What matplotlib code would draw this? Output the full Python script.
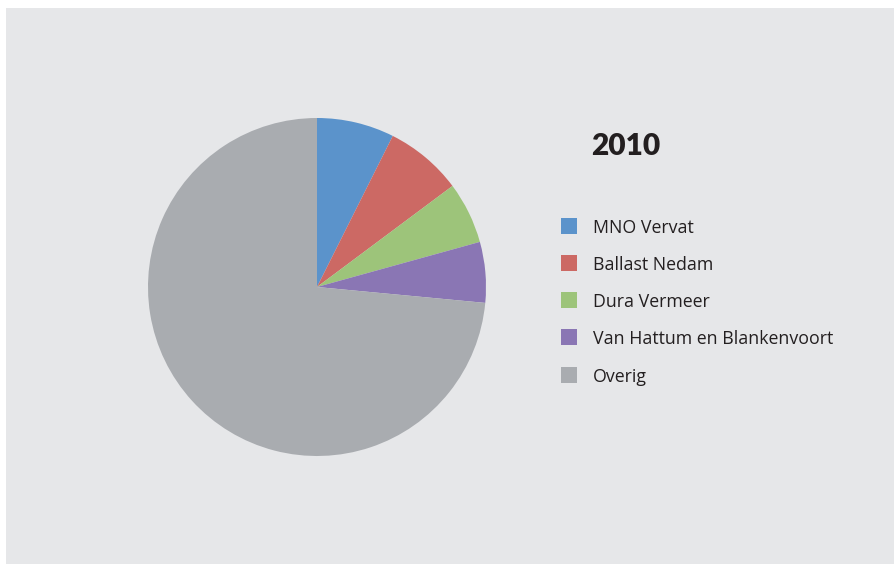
import matplotlib.pyplot as plt
from matplotlib.patches import Rectangle

labels = ['MNO Vervat', 'Ballast Nedam', 'Dura Vermeer',
          'Van Hattum en Blankenvoort', 'Overig']
shares = [7.4, 7.4, 5.9, 5.8, 73.5]
colors = ['#5B93CB', '#CC6964', '#9DC47A', '#8A76B4', '#A9ACB0']
title = '2010'

W, H = 895, 564
fig = plt.figure(figsize=(W / 100, H / 100), dpi=100, facecolor='white')
plt.rcParams['font.family'] = ['Open Sans', 'DejaVu Sans']

# grey panel
fig.patches.append(Rectangle((6 / W, 0), 1 - 6 / W, 1 - 8 / H,
                             transform=fig.transFigure, facecolor='#E6E7E9',
                             edgecolor='none', zorder=-5))

# pie: centre (317, 287), radius 169 px
cx, cy, r = 317, 287, 169
ax = fig.add_axes([(cx - r) / W, 1 - (cy + r) / H, 2 * r / W, 2 * r / H])
ax.set_zorder(2)
ax.pie(shares, colors=colors, startangle=90, counterclock=False,
       wedgeprops=dict(linewidth=0))
ax.set_xlim(-1, 1)
ax.set_ylim(-1, 1)
ax.set_aspect('equal')
ax.axis('off')

fig.text(626 / W, 1 - 146 / H, title, ha='center', va='center',
         fontsize=21.5, fontweight='heavy', color='#231F20',
         family=['Lato', 'DejaVu Sans'])

rows = [226, 263, 300, 337, 375]
for lab, col, y in zip(labels, colors, rows):
    fig.patches.append(Rectangle((561 / W, 1 - (y + 8) / H), 16 / W, 16 / H,
                                 transform=fig.transFigure, facecolor=col,
                                 edgecolor='none', zorder=1))
    fig.text(593 / W, 1 - (y + 2) / H, lab, ha='left', va='center',
             fontsize=12.8, color='#231F20')

fig.savefig('out.png', dpi=100, facecolor='white')
